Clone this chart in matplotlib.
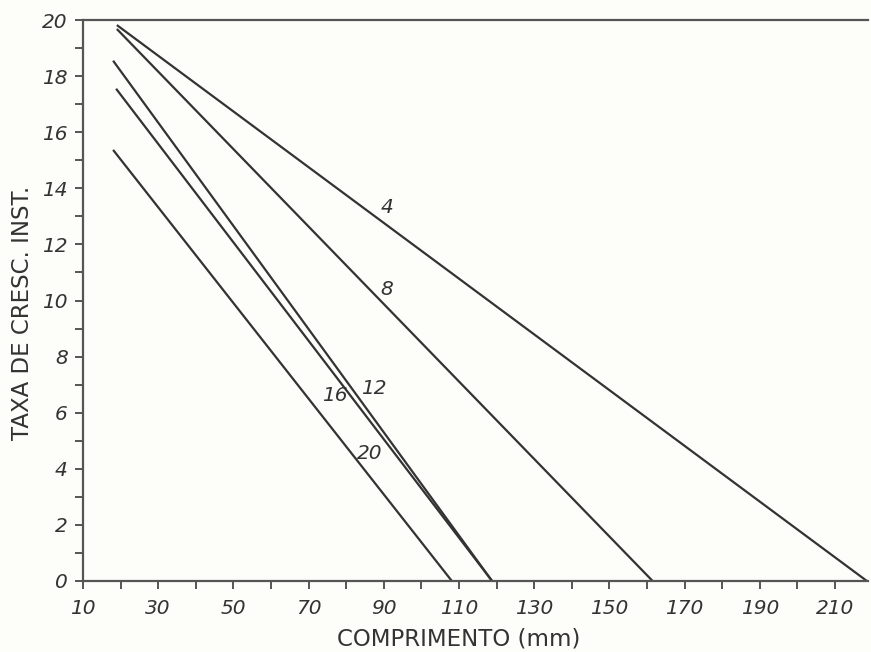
import matplotlib
matplotlib.use("Agg")
import matplotlib.pyplot as plt
from matplotlib.ticker import MultipleLocator, FixedLocator

# Data: each line from start point to end point (x in mm, y rate)
labels = ["4", "8", "12", "16", "20"]
x_start = [19.0, 19.0, 18.0, 18.8, 18.0]
y_start = [19.82, 19.68, 18.55, 17.55, 15.37]
x_end = [218.5, 161.5, 118.8, 118.8, 108.1]
y_end = [0.0, 0.0, 0.0, 0.0, 0.0]
label_x = [90.9, 90.9, 87.3, 77.0, 86.3]
label_y = [13.3, 10.4, 6.85, 6.6, 4.55]

x_major = [10, 30, 50, 70, 90, 110, 130, 150, 170, 190, 210]
x_minor = [20, 40, 60, 80, 100, 120, 140, 160, 180, 200]
y_major = [0, 2, 4, 6, 8, 10, 12, 14, 16, 18, 20]

ink = "#333333"
bg = "#fdfdfa"

fig = plt.figure(figsize=(8.71, 6.52), dpi=100, facecolor=bg)
ax = fig.add_axes([0.0953, 0.1089, 0.9013, 0.8604], facecolor=bg)

for i in range(len(labels)):
    ax.plot([x_start[i], x_end[i]], [y_start[i], y_end[i]], color=ink, lw=1.6,
            solid_capstyle="butt")
    ax.text(label_x[i], label_y[i], labels[i], color=ink, fontsize=14.5,
            ha="center", va="center", style="italic")

ax.set_xlim(10, 218.8)
ax.set_ylim(0, 20)

ax.spines["right"].set_visible(False)
for s in ["left", "bottom", "top"]:
    ax.spines[s].set_color("#555555")
    ax.spines[s].set_linewidth(1.6)

ax.xaxis.set_major_locator(FixedLocator(x_major))
ax.xaxis.set_minor_locator(FixedLocator(x_minor))
ax.yaxis.set_major_locator(FixedLocator(y_major))
ax.yaxis.set_minor_locator(MultipleLocator(1))

ax.tick_params(axis="both", which="both", direction="out", length=6, width=1.4,
               color="#555555", labelcolor=ink, labelsize=14.5, top=False, right=False)
ax.tick_params(axis="x", which="major", pad=7)
ax.tick_params(axis="y", which="major", pad=5)
for t in ax.get_xticklabels() + ax.get_yticklabels():
    t.set_style("italic")

ax.set_xlabel("COMPRIMENTO (mm)", fontsize=16.5, color=ink, va="center")
ax.set_ylabel("TAXA DE CRESC. INST.", fontsize=16.5, color=ink)
ax.xaxis.set_label_coords(0.479, -0.103)
ax.yaxis.set_label_coords(-0.063, 0.478)

fig.savefig("out.png", dpi=100, facecolor=bg)
